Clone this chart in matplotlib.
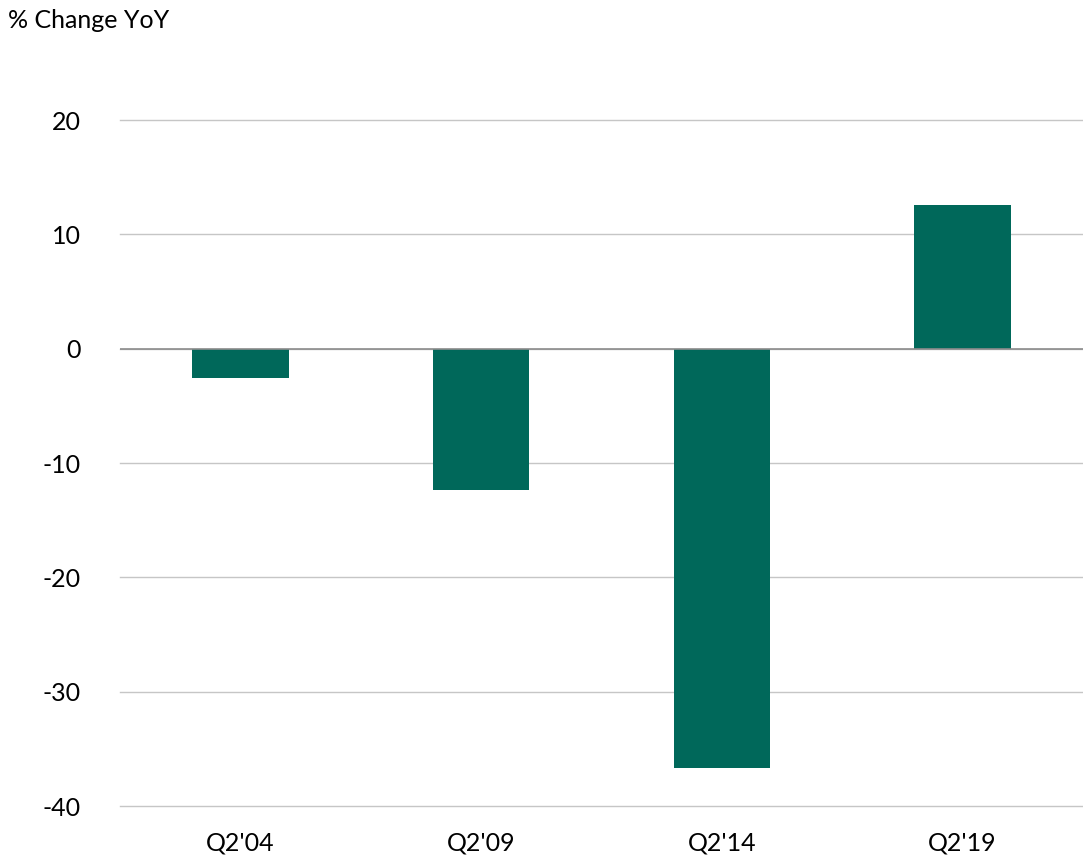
import matplotlib
matplotlib.use("Agg")
import matplotlib.pyplot as plt

categories = ["Q2'04", "Q2'09", "Q2'14", "Q2'19"]
values = [-2.6, -12.4, -36.7, 12.6]
yticks = [20, 10, 0, -10, -20, -30, -40]

plt.rcParams["font.family"] = ["Lato", "DejaVu Sans"]

fig = plt.figure(figsize=(10.83, 8.58), dpi=100)
ax = fig.add_axes([120 / 1083, 1 - 806 / 858, 963 / 1083, (806 - 120) / 858])

x = list(range(len(categories)))
ax.bar(x, values, width=0.4, color="#00685a", zorder=3)

ax.set_xlim(-0.5, len(categories) - 0.5)
ax.set_ylim(-40, 20)
ax.set_yticks(yticks)
ax.set_yticklabels([str(t) for t in yticks])
ax.set_xticks(x)
ax.set_xticklabels(categories)
ax.yaxis.grid(True, color="#c6c6c6", linewidth=1)
for gl in ax.get_ygridlines():
    gl.set_clip_on(False)
ax.axhline(0, color="#8c8c8c", linewidth=1.2, zorder=4)
for s in ax.spines.values():
    s.set_visible(False)
ax.tick_params(axis="both", length=0, labelsize=18, colors="black")
ax.tick_params(axis="y", pad=28)
ax.tick_params(axis="x", pad=18)

fig.text(8 / 1083, 1 - 20 / 858, "% Change YoY", fontsize=18, va="center", ha="left")

fig.savefig("out.png", dpi=100)
